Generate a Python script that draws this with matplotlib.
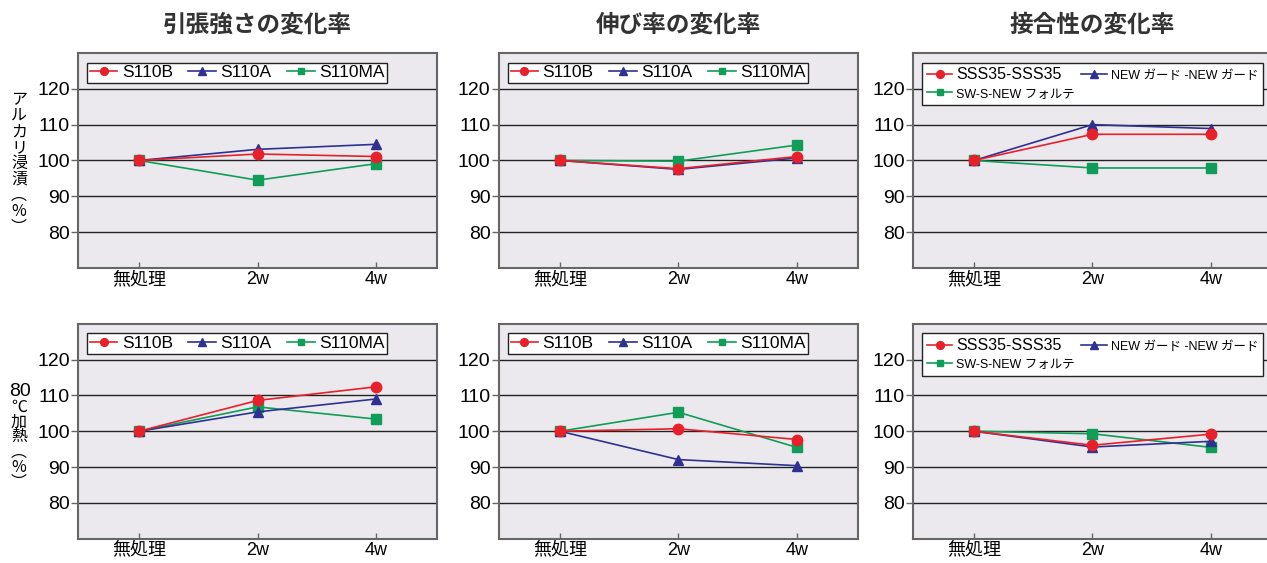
import matplotlib.pyplot as plt

plt.rcParams['font.family'] = ['Liberation Sans', 'Noto Sans CJK JP']

# x categories
periods = ['無処理', '2w', '4w']

titles = ['引張強さの変化率', '伸び率の変化率', '接合性の変化率']
series_a = ['S110B', 'S110A', 'S110MA']
series_b = ['SSS35-SSS35', 'NEW ガード -NEW ガード', 'SW-S-NEW フォルテ']

# アルカリ浸漬
alk_tensile = [[100, 101.8, 101.1], [100, 103.1, 104.5], [100, 94.5, 99.1]]
alk_elong = [[100, 97.7, 101.1], [100, 97.5, 100.7], [100, 99.8, 104.3]]
alk_bond = [[100, 107.3, 107.3], [100, 110.0, 108.9], [100, 97.9, 97.9]]
# 80℃加熱
heat_tensile = [[100, 108.6, 112.4], [100, 105.4, 109.0], [100, 106.8, 103.4]]
heat_elong = [[100, 100.7, 97.7], [100, 92.1, 90.4], [100, 105.3, 95.5]]
heat_bond = [[100, 96.1, 99.2], [100, 95.6, 97.2], [100, 99.3, 95.5]]

colors = ['#e8202a', '#2e3192', '#0f9d58']
markers = ['o', '^', 's']
msizes = [7.5, 7.5, 6.5]

fig = plt.figure(figsize=(12.67, 5.63), dpi=100)

lefts = [0.0616, 0.3938, 0.7206]
bottoms = [0.524, 0.043]
w, h = 0.2833, 0.382

rows = [[alk_tensile, alk_elong, alk_bond],
        [heat_tensile, heat_elong, heat_bond]]

for r, row in enumerate(rows):
    for c, data in enumerate(row):
        ax = fig.add_axes([lefts[c], bottoms[r], w, h])
        ax.set_facecolor('#ebe9ed')
        names = series_b if c == 2 else series_a
        lines = []
        for i, vals in enumerate(data):
            ln, = ax.plot(range(len(periods)), vals, color=colors[i], marker=markers[i],
                          ms=msizes[i], lw=1.2, label=names[i], zorder=3 + (2 - i) * 0.1)
            lines.append(ln)
        ax.set_xlim(-0.515, 2.515)
        ax.set_ylim(70, 130)
        ax.set_yticks([80, 90, 100, 110, 120])
        ax.set_xticks(range(len(periods)))
        ax.set_xticklabels(periods)
        ax.tick_params(axis='y', length=5, width=1, color='#666666',
                       labelsize=14, pad=1)
        ax.tick_params(axis='x', direction='in', length=4, width=1,
                       color='#666666', labelsize=13, pad=2)
        ax.yaxis.grid(True, color='#222222', lw=1)
        ax.set_axisbelow(True)
        for sp in ax.spines.values():
            sp.set_color('#666666')
            sp.set_linewidth(1.5)
        if c == 2:
            # 2列で行方向に並べる
            leg = ax.legend([lines[0], lines[2], lines[1]],
                            [names[0], names[2], names[1]],
                            loc='upper left', ncol=2, fontsize=11.5,
                            bbox_to_anchor=(0.025, 0.955), borderaxespad=0,
                            fancybox=False, framealpha=1, edgecolor='#222222',
                            handlelength=1.6, handletextpad=0.25, columnspacing=0.4,
                            borderpad=0.3, labelspacing=0.25, markerscale=0.75)
            for t in leg.get_texts():
                if t.get_text() != names[0]:
                    t.set_fontsize(9)
        else:
            leg = ax.legend(loc='upper left', ncol=3, fontsize=12.5,
                            bbox_to_anchor=(0.025, 0.955), borderaxespad=0,
                            fancybox=False, framealpha=1, edgecolor='#222222',
                            handlelength=1.6, handletextpad=0.25, columnspacing=0.9,
                            borderpad=0.15, labelspacing=0.15, markerscale=0.75)
        leg.get_frame().set_linewidth(1.0)
        if r == 0:
            fig.text(lefts[c] + w / 2, 0.956, titles[c], ha='center', va='center',
                     fontsize=17, fontweight='bold', color='#333333')


# 縦書きの軸ラベル
def vertical_label(chars, y_top, step, size=11.5):
    y = y_top
    for ch in chars:
        fig.text(0.0150, y, ch, ha='center', va='center', fontsize=size,
                 family=['Noto Sans CJK JP'])
        y -= step


vertical_label(['ア', 'ル', 'カ', 'リ', '浸', '漬', '︵', '%', '︶'], 1 - 100 / 563, 15.9 / 563)
fig.text(0.0158, 1 - 392 / 563, '80', ha='center', va='center', fontsize=14)
vertical_label(['℃', '加', '熱', '︵', '%', '︶'], 1 - 407 / 563, 15.0 / 563)

fig.savefig('out.png', dpi=100)
